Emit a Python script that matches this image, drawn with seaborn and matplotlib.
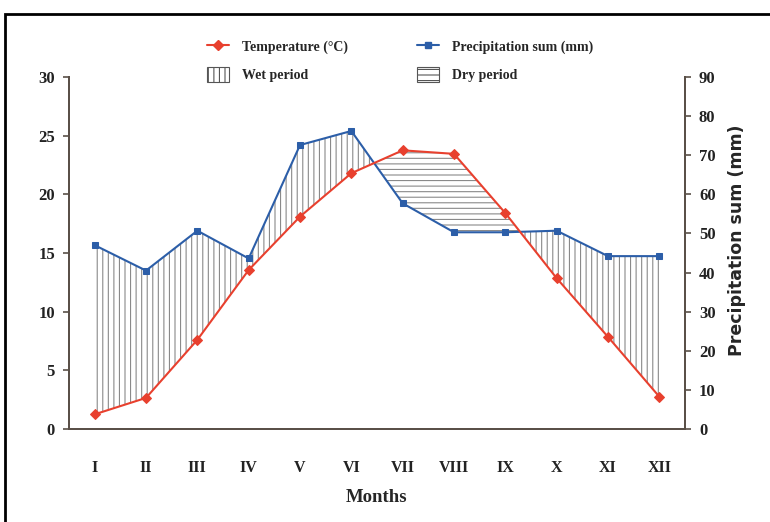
import numpy as np
import pandas as pd
import matplotlib
matplotlib.use("Agg")
import matplotlib.pyplot as plt
import matplotlib.patches as mpatches
from matplotlib.lines import Line2D
import seaborn as sns

months = ["I", "II", "III", "IV", "V", "VI", "VII", "VIII", "IX", "X", "XI", "XII"]
temperature = [1.25, 2.65, 7.6, 13.55, 18.1, 21.8, 23.75, 23.45, 18.4, 12.85, 7.85, 2.75]
precipitation = [47.0, 40.5, 50.7, 43.6, 72.6, 76.2, 57.7, 50.3, 50.3, 50.7, 44.2, 44.2]
temp_ticks = [0, 5, 10, 15, 20, 25, 30]
prec_ticks = [0, 10, 20, 30, 40, 50, 60, 70, 80, 90]

sns.set_theme(style="white")
plt.rcParams["font.family"] = ["Liberation Serif", "DejaVu Serif"]
plt.rcParams["hatch.linewidth"] = 0.8

RED = "#e8402e"
BLUE = "#2c5ea8"
SPINE = "#5a5048"
HATCH = "#8a8a8a"

df = pd.DataFrame({"x": np.arange(len(months)), "month": months,
                   "temp": temperature, "prec": precipitation})

fig = plt.figure(figsize=(7.7, 5.22), dpi=100)
ax = fig.add_axes([69/770, 1-429/522, (685-69)/770, (429-77)/522])
ax2 = ax.twinx()

x = df["x"].to_numpy()
t3 = df["temp"].to_numpy() * 3
p = df["prec"].to_numpy()

ax2.fill_between(x, t3, p, where=p >= t3, interpolate=True, facecolor="none",
                 edgecolor=HATCH, hatch="|||", linewidth=0, zorder=1)
ax2.fill_between(x, t3, p, where=p <= t3, interpolate=True, facecolor="none",
                 edgecolor=HATCH, hatch="---", linewidth=0, zorder=1)

sns.lineplot(data=df, x="x", y="prec", ax=ax2, color=BLUE, marker="s",
             markersize=5, markeredgecolor=BLUE, linewidth=1.5, zorder=3)
sns.lineplot(data=df, x="x", y="temp", ax=ax, color=RED, marker="D",
             markersize=5, markeredgecolor=RED, linewidth=1.5, zorder=3)
ax.set_zorder(ax2.get_zorder() + 1)
ax.patch.set_visible(False)

ax.set_xlim(-0.5, 11.5)
ax.set_ylim(0, 30)
ax2.set_ylim(0, 90)
ax.set_yticks(temp_ticks)
ax2.set_yticks(prec_ticks)
ax.set_xticks(x)
ax.set_xticklabels(months)
ax.set_xticks(np.arange(-0.5, 12, 1), minor=True)
ax.tick_params(axis="x", which="major", length=0, pad=22, labelsize=11.5)
ax.tick_params(axis="x", which="minor", length=4, direction="out", color=SPINE, width=1.2)
ax.tick_params(axis="y", length=4, direction="out", color=SPINE, width=1.2, labelsize=12, pad=6, left=True)
ax2.tick_params(axis="y", length=4, direction="out", color=SPINE, width=1.2, labelsize=12, pad=6, right=True)
for lab in ax.get_xticklabels() + ax.get_yticklabels() + ax2.get_yticklabels():
    lab.set_fontweight("bold")
    lab.set_color("#222222")

for a in (ax, ax2):
    a.spines["top"].set_visible(False)
    for s in ("left", "right", "bottom"):
        a.spines[s].set_color(SPINE)
        a.spines[s].set_linewidth(1.4)
    a.grid(False)
ax.set_ylabel("")
ax2.set_ylabel("")
ax.set_xlabel("Months", fontsize=13.5, fontweight="bold", labelpad=10)

fig.text(737/770, 1-240/522, "Precipitation sum (mm)", rotation=90, ha="center",
         va="center", fontsize=12.5, fontweight="bold", family="DejaVu Sans")

h_temp = Line2D([], [], color=RED, marker="D", markersize=5, linewidth=1.5)
h_prec = Line2D([], [], color=BLUE, marker="s", markersize=4, linewidth=1.5)
h_wet = mpatches.Patch(facecolor="white", edgecolor="#555555", hatch="|||", linewidth=0.8)
h_dry = mpatches.Patch(facecolor="white", edgecolor="#555555", hatch="---", linewidth=0.8)
handles = [h_temp, h_wet, h_prec, h_dry]
labels = ["Temperature (°C)", "Wet period", "Precipitation sum (mm)", "Dry period"]
fig.legend(handles, labels, loc="upper left", bbox_to_anchor=(207/770, 1-39/522), ncol=2,
           frameon=False, prop={"weight": "bold", "size": 10}, columnspacing=5.0,
           handlelength=1.6, handleheight=1.3, handletextpad=0.9, labelspacing=0.9,
           borderpad=0, borderaxespad=0)

fig.patches.append(mpatches.Rectangle((5/770, -0.1), 1.2, 1-14/522+0.1, transform=fig.transFigure,
                                      fill=False, edgecolor="black", linewidth=2, figure=fig))

fig.savefig("out.png", dpi=100)
